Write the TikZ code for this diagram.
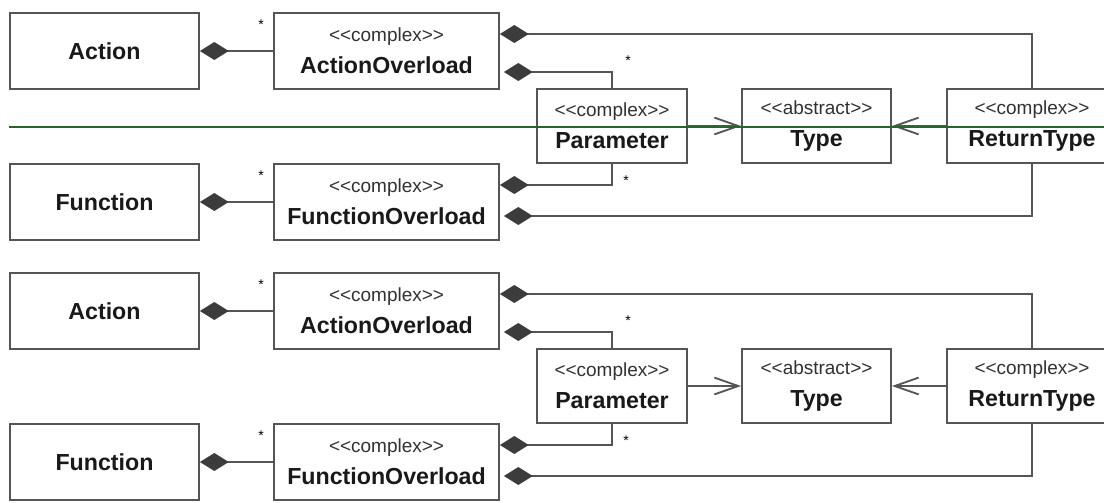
\documentclass[tikz,border=0pt]{standalone}
\usepackage{fontspec}
\setmainfont{Liberation Sans}
\usetikzlibrary{arrows.meta}
\definecolor{linegray}{RGB}{85,85,85}
\definecolor{fillgray}{RGB}{60,60,60}
\definecolor{textgray}{RGB}{50,50,50}
\definecolor{markgreen}{RGB}{40,100,45}
\newcommand{\namefont}{\fontsize{16.5}{23}\selectfont\bfseries}
\newcommand{\stereo}[1]{{\fontsize{13.5}{16}\selectfont\mdseries\color{textgray}<\kern0pt<#1>\kern0pt>}}

\begin{document}
\begin{tikzpicture}[line join=miter,
    cls/.style={draw=linegray, line width=1.3pt, fill=white, minimum height=1.85cm, inner sep=0pt, align=center, font=\namefont, text=black!90},
    comp/.style={draw=linegray, line width=1.3pt, -{Diamond[length=0.72cm, width=0.45cm, fill=fillgray, color=fillgray]}},
    nav/.style={draw=linegray, line width=1.3pt, -{Straight Barb[length=0.6cm, width=0.42cm, line width=1.3pt]}},
    mult/.style={font=\fontsize{10}{10}\selectfont, inner sep=0pt}]
  \useasboundingbox (0, 0) rectangle (27.6, -12.55);
  \foreach \k/\dy in {a/0, b/-6.5} {
    \begin{scope}[yshift=\dy cm]
      % classes
      \node[cls, minimum width=4.725cm, minimum height=1.9cm] (act\k) at (2.6125, -1.275) {Action};
      \node[cls, minimum width=5.625cm, minimum height=1.9cm] (actov\k) at (9.6625, -1.275) {\stereo{complex}\\ActionOverload};
      \node[cls, minimum width=4.725cm, minimum height=1.9cm] (fun\k) at (2.6125, -5.05) {Function};
      \node[cls, minimum width=5.625cm, minimum height=1.9cm] (funov\k) at (9.6625, -5.05) {\stereo{complex}\\FunctionOverload};
      \node[cls, minimum width=3.75cm] (par\k) at (15.3, -3.15) {\stereo{complex}\\Parameter};
      \node[cls, minimum width=3.725cm] (typ\k) at (20.4125, -3.15) {\stereo{abstract}\\Type};
      \node[cls, minimum width=4.25cm] (ret\k) at (25.8, -3.15) {\stereo{complex}\\ReturnType};
      % compositions
      \draw[comp] (actov\k.west) -- (act\k.east);
      \draw[comp] (funov\k.west) -- (fun\k.east);
      \draw[comp] (ret\k.north) |- ([yshift=0.425cm]actov\k.east);
      \draw[comp, shorten >=0.1cm] (par\k.north) |- ([yshift=-0.525cm]actov\k.east);
      \draw[comp] (par\k.south) |- ([yshift=0.425cm]funov\k.east);
      \draw[comp, shorten >=0.1cm] (ret\k.south) |- ([yshift=-0.35cm]funov\k.east);
      % navigation
      \draw[nav] (par\k) -- (typ\k);
      \draw[nav] (ret\k) -- (typ\k);
      % multiplicities
      \node[mult] (m1\k) at ([xshift=-0.3cm, yshift=0.65cm]actov\k.west) {*};
      \node[mult] (m2\k) at ([xshift=-0.3cm, yshift=0.65cm]funov\k.west) {*};
      \node[mult] (m3\k) at ([xshift=0.4cm, yshift=0.675cm]par\k.north) {*};
      \node[mult] (m4\k) at ([xshift=0.35cm, yshift=-0.425cm]par\k.south) {*};
    \end{scope}
  }
  \draw[markgreen, line width=1.4pt] (0.22, -3.175) -- (27.6, -3.175);
\end{tikzpicture}
\end{document}
